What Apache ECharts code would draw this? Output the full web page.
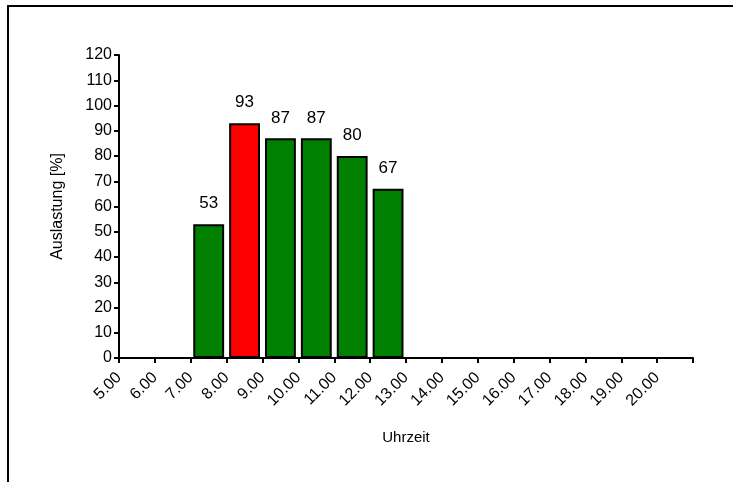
<!DOCTYPE html>
<html>
<head>
<meta charset="utf-8">
<script src="https://cdn.jsdelivr.net/npm/echarts@6/dist/echarts.min.js"></script>
<style>
html,body{margin:0;padding:0;background:#fff;}
#c{width:738px;height:482px;}
</style>
</head>
<body>
<div id="c"></div>
<script>
var categories = ['5.00','6.00','7.00','8.00','9.00','10.00','11.00','12.00','13.00','14.00','15.00','16.00','17.00','18.00','19.00','20.00'];
var values = [0, 0, 53, 93, 87, 87, 80, 67, 0, 0, 0, 0, 0, 0, 0, 0];
var highlightCategory = '8.00';
var tickLabels = categories.concat(['']);
var yTicks = [0,10,20,30,40,50,60,70,80,90,100,110,120];

var FONT = 'Liberation Sans, Arial, sans-serif';
var chart = echarts.init(document.getElementById('c'), null, {renderer:'canvas'});

var barData = values.map(function(v, i){
  return {
    value: v,
    itemStyle: { color: categories[i] === highlightCategory ? '#ff0000' : '#008000' }
  };
});

chart.setOption({
  animation: false,
  backgroundColor: '#ffffff',
  graphic: [{
    type: 'polyline',
    shape: { points: [[8, 482], [8, 6], [733, 6]] },
    style: { stroke: '#000', lineWidth: 2, fill: null },
    silent: true
  }],
  grid: { left: 119, top: 55, width: 574, height: 303, containLabel: false },
  xAxis: [{
    type: 'category',
    data: categories,
    position: 'bottom',
    boundaryGap: true,
    axisLine: { lineStyle: { color: '#000', width: 2 } },
    axisTick: { show: true, interval: 0, length: 5, lineStyle: { color: '#000', width: 2 } },
    axisLabel: { show: false },
    name: 'Uhrzeit',
    nameLocation: 'middle',
    nameGap: 72,
    nameTextStyle: { fontFamily: FONT, fontSize: 15, color: '#000' }
  }, {
    type: 'category',
    data: tickLabels,
    position: 'bottom',
    boundaryGap: false,
    axisLine: { show: false },
    axisTick: { show: false },
    axisLabel: { interval: 0, rotate: 45, margin: 17, fontFamily: FONT, fontSize: 16, color: '#000' }
  }],
  yAxis: {
    type: 'value',
    min: yTicks[0],
    max: yTicks[yTicks.length - 1],
    interval: 10,
    axisLine: { show: true, lineStyle: { color: '#000', width: 2 } },
    axisTick: { show: true, length: 5, lineStyle: { color: '#000', width: 2 } },
    splitLine: { show: false },
    axisLabel: { margin: 7, fontFamily: FONT, fontSize: 16, color: '#000' },
    name: 'Auslastung [%]',
    nameLocation: 'middle',
    nameRotate: 90,
    nameGap: 53,
    nameTextStyle: { fontFamily: FONT, fontSize: 16, color: '#000' }
  },
  series: [{
    type: 'bar',
    xAxisIndex: 0,
    data: barData,
    barCategoryGap: '14%',
    itemStyle: { borderColor: '#000', borderWidth: 2 },
    label: {
      show: true,
      position: 'top',
      distance: 12,
      fontFamily: FONT,
      fontSize: 17,
      color: '#000',
      formatter: function(p){ return p.value ? String(p.value) : ''; }
    }
  }]
});
</script>
</body>
</html>
